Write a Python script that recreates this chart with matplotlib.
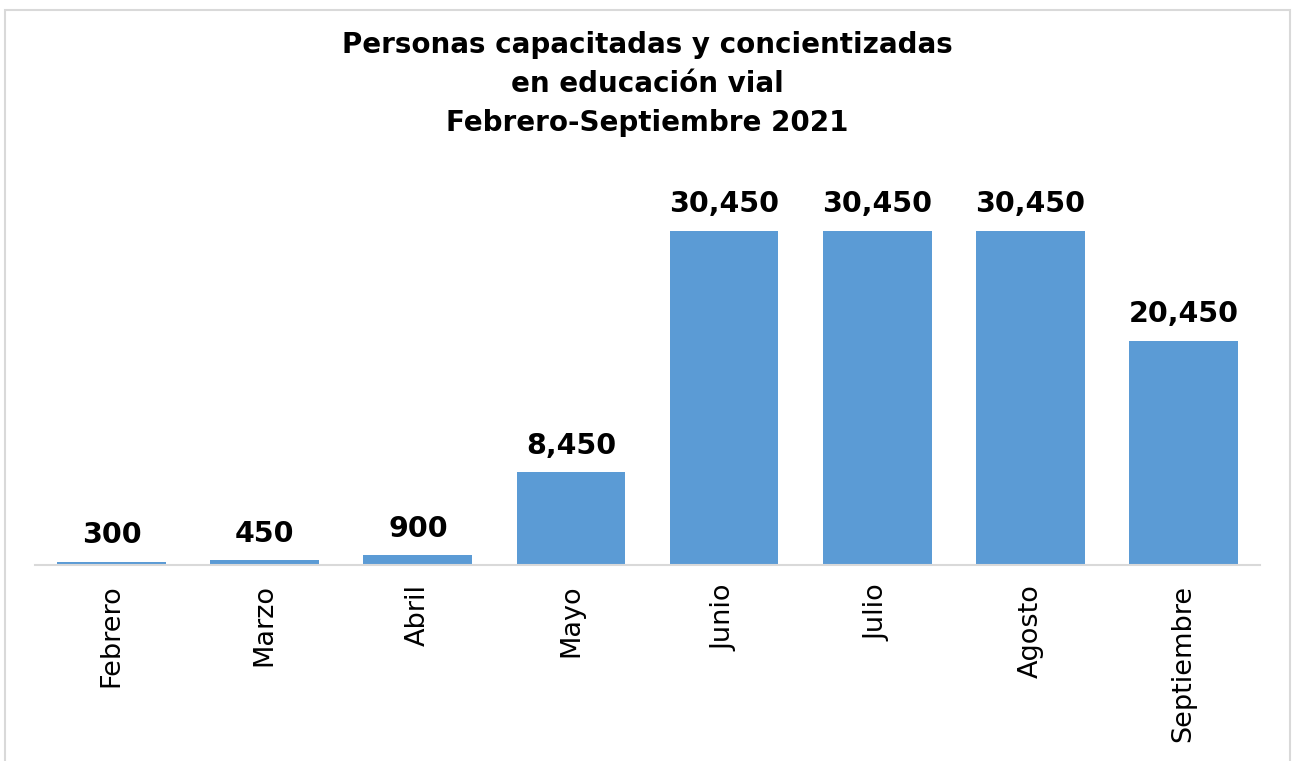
import matplotlib.pyplot as plt
from matplotlib.patches import Rectangle

meses = ["Febrero", "Marzo", "Abril", "Mayo", "Junio", "Julio", "Agosto", "Septiembre"]
personas = [300, 450, 900, 8450, 30450, 30450, 30450, 20450]

W, H = 1295, 761
fig = plt.figure(figsize=(W / 100, H / 100), dpi=100)
fig.patch.set_facecolor("white")

# marco gris del grafico (abierto por abajo)
fig.patches.append(Rectangle((5 / W, -0.05), 1285 / W, 1.05 - 10 / H,
                             transform=fig.transFigure, fill=False,
                             edgecolor="#D9D9D9", linewidth=1.5))

# area de barras: eje en y=565px, 30,450 llega a y=231px
ymax = 35000
px_per = 334 / 30450
ax_bottom = (H - 565) / H
ax_height = ymax * px_per / H
ax = fig.add_axes([35 / W, ax_bottom, 1225 / W, ax_height])

x = list(range(len(meses)))
bars = ax.bar(x, personas, width=0.71, color="#5B9BD5")
ax.set_xlim(-0.5, len(meses) - 0.5)
ax.set_ylim(0, ymax)

ax.bar_label(bars, labels=[f"{v:,}" for v in personas], padding=9,
             fontsize=20.5, fontweight="bold", color="black")

for s in ["top", "right", "left"]:
    ax.spines[s].set_visible(False)
ax.spines["bottom"].set_color("#D9D9D9")
ax.spines["bottom"].set_linewidth(1.5)
ax.set_yticks([])
ax.set_xticks(x)
ax.set_xticklabels(meses, rotation=90, fontsize=19.5, color="black")
ax.tick_params(axis="x", length=0, pad=14)
ax.set_facecolor("none")

fig.text(0.5, 1 - 84 / H, "Personas capacitadas y concientizadas\nen educación vial\nFebrero-Septiembre 2021",
         ha="center", va="center", fontsize=20, fontweight="bold",
         linespacing=1.52, color="black")

fig.savefig("out.png", dpi=100)
